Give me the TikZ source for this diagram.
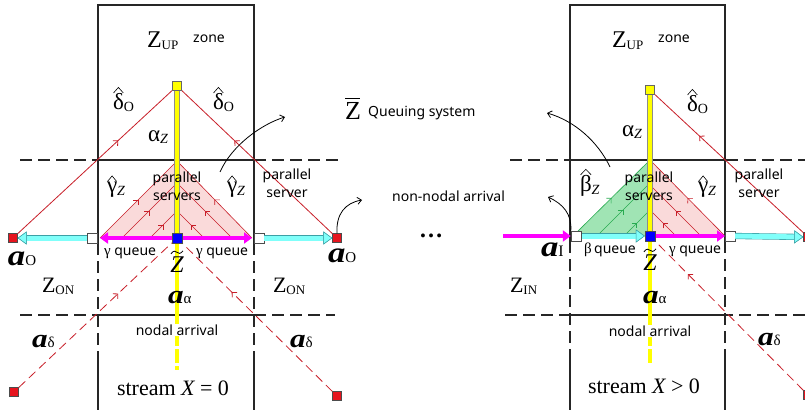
\documentclass[tikz,border=0pt]{standalone}
\usepackage{fontspec}
\setmainfont{Liberation Serif}
\newfontfamily\sansf{Noto Sans}
\usetikzlibrary{arrows.meta,decorations.markings}
\definecolor{redl}{RGB}{200,30,40}
\definecolor{redsq}{RGB}{230,20,30}
\definecolor{pinkf}{RGB}{250,218,218}
\definecolor{greenf}{RGB}{160,228,180}
\definecolor{greenl}{RGB}{40,170,80}
\definecolor{cyanq}{RGB}{128,255,250}
\definecolor{cyanb}{RGB}{60,160,165}
\definecolor{magq}{RGB}{255,0,255}
\definecolor{yel}{RGB}{255,255,0}
\newsavebox\accbox
\newlength\accht
\newlength\accwd
\newcommand\overacc[3]{\sbox\accbox{#1}\setlength\accht{\ht\accbox}\setlength\accwd{\wd\accbox}%
  \rlap{\usebox\accbox}\makebox[\accwd]{\raisebox{\dimexpr\accht+#2\relax}{#3}}}
\newcommand\hatg[1]{\overacc{#1}{1pt}{\tikz[x=1pt,y=1pt,baseline=0pt]\draw[line width=0.6pt] (0,0)--({0.45\accwd},5.5)--({0.9\accwd},0);}}
\newcommand\tildeg[1]{\overacc{#1}{2.5pt}{\tikz[x=1pt,y=1pt,baseline=0pt]\draw[line width=0.8pt] (0,0) .. controls (2.5,3.5) and (4.5,3) .. (6,1.5) .. controls (7.5,0) and (9.5,-0.5) .. (12,3);}}
\newcommand\barg[1]{\overacc{#1}{4pt}{\rule{15pt}{0.9pt}}}
\newcommand\subt[2][14]{\raisebox{-2pt}{\fontsize{#1}{#1}\selectfont #2}}
\newcommand\subn[2][15]{{\fontsize{#1}{#1}\selectfont\normalfont #2}}
\newcommand\gk{\fontsize{23}{23}\selectfont}
\newcommand\abig[1]{{\fontsize{29}{29}\selectfont\bfseries\itshape\scalebox{1.2}[1]{#1}}}
\newcommand\amid[1]{{\fontsize{26}{26}\selectfont\bfseries\itshape\scalebox{1.2}[1]{#1}}}
\begin{document}
\begin{tikzpicture}[x=1pt,y=-1pt,
 boxln/.style={line width=1.1pt, black!85},
 dashln/.style={line width=1.1pt, black!85, dash pattern=on 12pt off 6pt},
 redln/.style={draw=redl, line width=0.8pt},
 reddash/.style={draw=redl, line width=0.8pt, dash pattern=on 9pt off 5pt},
 triR/.style={draw=redl, line width=0.6pt},
 triG/.style={draw=greenl, line width=0.6pt},
 midarr/.style={postaction={decorate}, decoration={markings, mark=at position #1 with {\arrow{Straight Barb[length=3.5pt,width=7pt]}}}},
 ybar/.style={draw=yel, line width=4.6pt, preaction={draw=black!45, line width=6pt}},
 ylow/.style={draw=yel, line width=3.4pt},
 magarr/.style={draw=magq, line width=4pt},
 cyanarr/.style={draw=cyanq, line width=5pt, -{Triangle[length=9pt,width=13pt,line width=0.5pt,color=cyanb,fill=cyanq]}, preaction={draw=cyanb,line width=6.2pt}},
 curv/.style={draw=black, line width=0.8pt, -{Straight Barb[length=4pt,width=7pt]}},
 ysq/.style={rectangle, draw=black!60, fill=yel, minimum size=9pt, inner sep=0pt},
 bsq/.style={rectangle, draw=black!70, fill=blue, minimum size=10pt, inner sep=0pt},
 wsq/.style={rectangle, draw=black!70, fill=white, minimum size=10pt, inner sep=0pt},
 rsq/.style={rectangle, draw=black!70, fill=redsq, minimum size=9pt, inner sep=0pt},
 txt/.style={inner sep=0pt, outer sep=0pt, anchor=base west},
 stxt/.style={inner sep=0pt, font=\sansf\fontsize{14}{18}\selectfont, align=center}
]
\path[fill=white,use as bounding box] (0,0) rectangle (805,414);

% ---------------- LEFT PANEL ----------------
\coordinate (pL1) at (100,238); \coordinate (pR1) at (252,238); \coordinate (ap1) at (177,161);
\fill[pinkf] (pL1) -- (ap1) -- (pR1) -- cycle;
\draw[triR, midarr=0.5] (pL1) -- (ap1);
\draw[triR, midarr=0.5] (pR1) -- (ap1);
\draw[triR, midarr=0.5] (122,238) -- (177,183);
\draw[triR, midarr=0.5] (150,238) -- (177,211);
\draw[triR, midarr=0.5] (232,238) -- (177,183);
\draw[triR, midarr=0.5] (204,238) -- (177,211);

\draw[dashln] (20,160) -- (338,160);
\draw[dashln] (20,315) -- (335,315);
\draw[boxln] (98,160) -- (254,160);
\draw[boxln] (98,315) -- (254,315);
\draw[boxln] (98,243) -- (98,5) -- (254,5) -- (254,243);
\draw[dashln] (98,243) -- (98,355);
\draw[dashln] (254,243) -- (254,355);
\draw[boxln] (98,355) -- (98,410);
\draw[boxln] (254,355) -- (254,410);

\node[ysq] (y1) at (177,86) {};
\node[bsq] (b1) at (177,238) {};
\node[wsq] (w1L) at (92,238) {};
\node[wsq] (w1R) at (259,238) {};
\node[rsq] (r1L) at (13,238) {};
\node[rsq] (r1R) at (337,238) {};
\node[rsq] (r1BL) at (14,392) {};
\node[rsq] (r1BR) at (337,396) {};
\coordinate (ye1) at (177,370);
\coordinate (mL1) at (100,238);
\coordinate (mR1) at (252,238);

\draw[redln, midarr=0.65] (r1L) -- (y1);
\draw[redln, midarr=0.65] (r1R) -- (y1);
\draw[reddash, midarr=0.65] (r1BL) -- (b1);
\draw[reddash, midarr=0.67] (r1BR) -- (b1);

\draw[ybar] (y1.south) -- (b1.north);
\draw[ylow] (b1.south) -- (177,315);
\draw[ylow, dash pattern=on 14pt off 3pt] (177,315) -- (ye1);

\draw[magarr, {Triangle[length=8pt,width=11pt]}-{Triangle[length=8pt,width=11pt]}] (mL1) -- (mR1);
\draw[cyanarr] (w1L.west) -- (r1L.east);
\draw[cyanarr] (w1R.east) -- (r1R.west);
\node[bsq] at (b1) {};
\node[ysq] at (y1) {};

% ---------------- RIGHT PANEL ----------------
\coordinate (gL2) at (573,236); \coordinate (ap2) at (650,160); \coordinate (gB2) at (650,236); \coordinate (pR2) at (725,236);
\fill[greenf] (gL2) -- (ap2) -- (gB2) -- cycle;
\fill[pinkf] (gB2) -- (ap2) -- (pR2) -- cycle;
\draw[triG, midarr=0.5] (gL2) -- (ap2);
\draw[triG, midarr=0.5] (597,236) -- (650,183);
\draw[triG, midarr=0.5] (624,236) -- (650,210);
\draw[triR, midarr=0.5] (pR2) -- (ap2);
\draw[triR, midarr=0.5] (701,236) -- (650,185);
\draw[triR, midarr=0.5] (676,236) -- (650,210);

\draw[dashln] (510,160) -- (805,160);
\draw[dashln] (505,315) -- (805,315);
\draw[boxln] (570,160) -- (725,160);
\draw[boxln] (570,315) -- (725,315);
\draw[boxln] (570,241) -- (570,5) -- (725,5) -- (725,241);
\draw[dashln] (570,241) -- (570,355);
\draw[dashln] (725,241) -- (725,355);
\draw[boxln] (570,355) -- (570,410);
\draw[boxln] (725,355) -- (725,410);

\node[ysq] (y2) at (650,90) {};
\node[bsq] (b2) at (650,236) {};
\node[wsq] (w2L) at (576,236) {};
\node[wsq] (w2R) at (730,236) {};
\node[rsq] (r2R) at (808,237) {};
\node[rsq] (r2BR) at (808,395) {};
\coordinate (ye2) at (650,365);
\coordinate (m2s) at (503,236);

\draw[redln, midarr=0.7] (r2R) -- (y2);
\draw[reddash, midarr=0.78] (r2BR) -- (b2);

\draw[ybar] (y2.south) -- (b2.north);
\draw[ylow] (b2.south) -- (650,315);
\draw[ylow, dash pattern=on 14pt off 3pt] (650,315) -- (ye2);

\draw[magarr, -{Triangle[length=8pt,width=11pt]}] (m2s) -- (w2L.west);
\draw[cyanarr] (w2L.east) -- (b2.west);
\draw[magarr, -{Triangle[length=8pt,width=11pt]}] (b2.east) -- (pR2);
\draw[cyanarr] (w2R.east) -- (r2R.west);
\node[bsq] at (b2) {};
\node[ysq] at (y2) {};
\node[wsq] at (w2L) {};

% ---------------- curved arrows ----------------
\coordinate (c1s) at (220,172); \coordinate (c1e) at (285,117);
\coordinate (c2e) at (362,200);
\coordinate (c3s) at (610,167); \coordinate (c3e) at (547,113);
\coordinate (c4e) at (548,197);
\draw[curv] (c1s) .. controls (232,145) and (262,124) .. (c1e);
\draw[curv] (r1R.north) .. controls (336,214) and (345,203) .. (c2e);
\draw[curv] (c3s) .. controls (598,142) and (575,121) .. (c3e);
\draw[curv] (w2L.north west) .. controls (572,214) and (563,204) .. (c4e);

% ---------------- LEFT TEXT ----------------
\node[txt] (zup1) at (147,48) {\fontsize{24}{24}\selectfont Z\subt[13]{UP}};
\node[stxt, anchor=base west] (zone1) at (193,43) {zone};
\node[txt] (do1) at (113,110) {\gk\hatg{δ}\subt{O}};
\node[txt] (do2) at (213,110) {\gk\hatg{δ}\subt{O}};
\node[txt] (az1) at (148,142) {\fontsize{23}{23}\selectfont α\subt{\itshape Z}};
\node[txt] (gz1) at (107,193) {\gk\hatg{γ}\subt{\itshape Z}};
\node[txt] (gz2) at (227,193) {\gk\hatg{γ}\subt{\itshape Z}};
\node[stxt] (ps1) at (177,186) {parallel\\servers};
\node[stxt] (psv1) at (287,183) {parallel\\server};
\node[txt] (gq1) at (104,255) {\fontsize{15}{15}\selectfont γ {\sansf\fontsize{14}{14}\selectfont queue}};
\node[txt] (gq2) at (196,255) {\fontsize{15}{15}\selectfont γ {\sansf\fontsize{14}{14}\selectfont queue}};
\node[txt, anchor=base] (zt1) at (177,272) {\fontsize{24}{24}\selectfont\tildeg{\itshape Z}};
\node[txt] (ao1) at (8,265) {\abig{a}\subn{O}};
\node[txt] (ao2) at (328,262) {\abig{a}\subn{O}};
\node[txt] (zon1) at (42,292) {\fontsize{22}{22}\selectfont Z\subt[13]{ON}};
\node[txt] (zon2) at (273,292) {\fontsize{22}{22}\selectfont Z\subt[13]{ON}};
\node[txt] (aa1) at (168,303) {\amid{a}\subn{α}};
\node[stxt, fill=white, inner sep=1pt] (na1) at (177,330) {nodal arrival};
\node[txt] (ad1) at (32,347) {\amid{a}\subn{δ}};
\node[txt] (ad2) at (290,347) {\amid{a}\subn{δ}};
\node[txt] (st1) at (117,395) {\fontsize{22}{22}\selectfont stream {\itshape X} = 0};

% ---------------- MIDDLE TEXT ----------------
\node[txt] (zbar) at (345,120) {\fontsize{26}{26}\selectfont\barg{Z}};
\node[stxt, anchor=base west] (qs) at (368,117) {Queuing system};
\node[inner sep=0pt] (dots) at (431,236) {\fontsize{24}{24}\selectfont\bfseries …};
\node[stxt, anchor=base west] (nna) at (392,201) {non-nodal arrival};

% ---------------- RIGHT TEXT ----------------
\node[txt] (zup2) at (612,48) {\fontsize{24}{24}\selectfont Z\subt[13]{UP}};
\node[stxt, anchor=base west] (zone2) at (658,43) {zone};
\node[txt] (do3) at (687,112) {\gk\hatg{δ}\subt{O}};
\node[txt] (az2) at (622,137) {\fontsize{23}{23}\selectfont α\subt{\itshape Z}};
\node[txt] (bz2) at (580,192) {\gk\hatg{β}\subt{\itshape Z}};
\node[txt] (gz3) at (698,193) {\gk\hatg{γ}\subt{\itshape Z}};
\node[stxt] (ps2) at (649,186) {parallel\\servers};
\node[stxt] (psv2) at (759,183) {parallel\\server};
\node[txt] (ai) at (541,256) {\abig{a}\subn[16]{I}};
\node[txt] (bq2) at (584,253) {\fontsize{15}{15}\selectfont β\,{\sansf\fontsize{14}{14}\selectfont queue}};
\node[txt] (gq3) at (669,253) {\fontsize{15}{15}\selectfont γ {\sansf\fontsize{14}{14}\selectfont queue}};
\node[txt, anchor=base] (zt2) at (650,270) {\fontsize{24}{24}\selectfont\tildeg{\itshape Z}};
\node[txt] (zin) at (510,292) {\fontsize{22}{22}\selectfont Z\subt[13]{IN}};
\node[txt] (aa2) at (643,303) {\amid{a}\subn{α}};
\node[stxt, fill=white, inner sep=1pt] (na2) at (650,331) {nodal arrival};
\node[txt] (ad3) at (758,345) {\amid{a}\subn{δ}};
\node[txt] (st2) at (588,393) {\fontsize{22}{22}\selectfont stream {\itshape X} > 0};
\end{tikzpicture}
\end{document}
